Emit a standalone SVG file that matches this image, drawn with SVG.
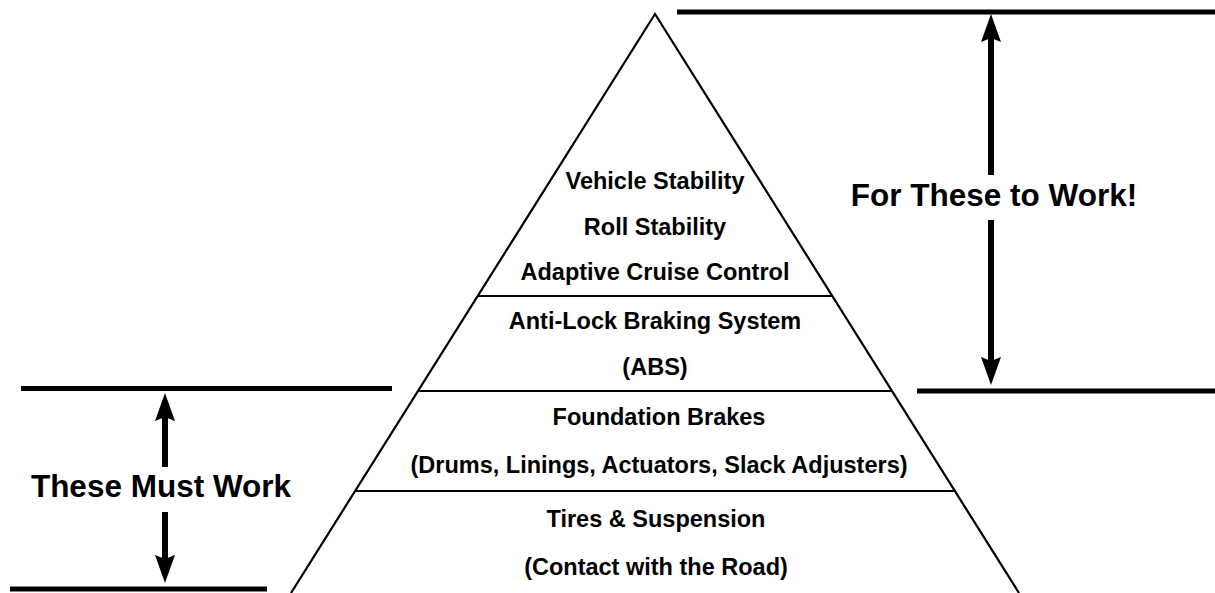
<svg xmlns="http://www.w3.org/2000/svg" width="1215" height="593" viewBox="0 0 1215 593">
<style>
.t{font-family:"Liberation Sans",Arial,sans-serif;font-weight:bold;font-size:23.5px;fill:#000;text-anchor:middle}
.big{font-family:"Liberation Sans",Arial,sans-serif;font-weight:bold;font-size:31.5px;fill:#000;text-anchor:middle}
.edge{stroke:#000;stroke-width:2.2;fill:none}
.bar{stroke:#000;stroke-width:5;fill:none}
.shaft{stroke:#000;stroke-width:6;fill:none}
.head{fill:#000}
</style>
<defs>
<path id="ah" d="M0,0 L10,28 L0,24 L-10,28 Z"/>
</defs>
<rect width="1215" height="593" fill="#fff"/>
<g id="pyramid">
<path class="edge" d="M291,593 L655,14 L1019,593"/>
</g>
<g id="tier-top">
<line class="edge" x1="477.7" y1="296" x2="832.3" y2="296"/>
<text class="t" x="655" y="189">Vehicle Stability</text>
<text class="t" x="655" y="235">Roll Stability</text>
<text class="t" x="655" y="280">Adaptive Cruise Control</text>
</g>
<g id="tier-abs">
<line class="edge" x1="418" y1="391" x2="892" y2="391"/>
<text class="t" x="655" y="329">Anti-Lock Braking System</text>
<text class="t" x="655" y="375">(ABS)</text>
</g>
<g id="tier-foundation">
<line class="edge" x1="355" y1="491" x2="955" y2="491"/>
<text class="t" x="659" y="425">Foundation Brakes</text>
<text class="t" x="659" y="473">(Drums, Linings, Actuators, Slack Adjusters)</text>
</g>
<g id="tier-tires">
<text class="t" x="656" y="527">Tires &amp; Suspension</text>
<text class="t" x="656" y="575">(Contact with the Road)</text>
</g>
<g id="label-must">
<text class="big" x="161" y="497">These Must Work</text>
</g>
<g id="label-for">
<text class="big" x="994" y="206">For These to Work!</text>
</g>
<g id="connectors">
<line class="bar" x1="677" y1="12" x2="1215" y2="12"/>
<line class="bar" x1="917" y1="391" x2="1215" y2="391"/>
<line class="bar" x1="21" y1="388.5" x2="392" y2="388.5"/>
<line class="bar" x1="10" y1="589" x2="267" y2="589"/>
<line class="shaft" x1="991" y1="34" x2="991" y2="175"/>
<use href="#ah" class="head" transform="translate(991,14)"/>
<line class="shaft" x1="991" y1="220" x2="991" y2="364"/>
<use href="#ah" class="head" transform="translate(991,385) rotate(180)"/>
<line class="shaft" x1="165" y1="413" x2="165" y2="467"/>
<use href="#ah" class="head" transform="translate(165,393)"/>
<line class="shaft" x1="165" y1="512" x2="165" y2="563"/>
<use href="#ah" class="head" transform="translate(165,583) rotate(180)"/>
</g>
</svg>
